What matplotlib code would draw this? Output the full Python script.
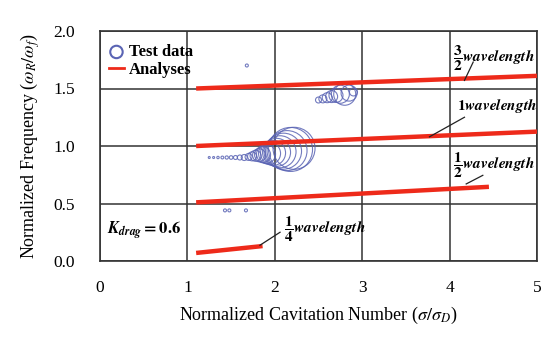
import matplotlib
matplotlib.use("Agg")
import matplotlib.pyplot as plt
import numpy as np

plt.rcParams['font.family'] = ['Liberation Serif', 'DejaVu Serif']
plt.rcParams['mathtext.fontset'] = 'stix'

# ---- data ----
test_x = [1.25, 1.30, 1.35, 1.40, 1.45, 1.50, 1.55, 1.60, 1.65, 1.70, 1.74, 1.78, 1.82,
          1.86, 1.90, 1.94, 1.98, 2.02, 2.06, 2.10, 2.14, 2.18, 2.22,
          2.50, 2.55, 2.60, 2.65, 2.70, 2.75, 2.80, 2.85, 2.90,
          1.68, 1.43, 1.48, 1.67]
test_y = [0.90, 0.90, 0.90, 0.90, 0.90, 0.90, 0.90, 0.90, 0.90, 0.905, 0.91, 0.915, 0.92,
          0.925, 0.93, 0.935, 0.94, 0.945, 0.95, 0.955, 0.96, 0.97, 0.98,
          1.40, 1.41, 1.42, 1.43, 1.44, 1.45, 1.45, 1.46, 1.47,
          1.70, 0.44, 0.44, 0.44]
test_amp = [1.0, 1.0, 1.2, 1.4, 1.6, 1.8, 2.0, 2.5, 3.0, 3.5, 4.5, 5.5, 6.5,
            8.0, 9.5, 11.0, 12.5, 14.0, 16.0, 18.0, 20.0, 22.0, 21.0,
            3.0, 4.0, 5.0, 6.0, 7.0, 9.0, 11.0, 8.0, 4.0,
            1.5, 1.5, 1.5, 1.5]

analysis_labels = ["3/2", "1", "1/2", "1/4"]
analysis_x0 = [1.1, 1.1, 1.1, 1.1]
analysis_y0 = [1.50, 1.00, 0.51, 0.07]
analysis_x1 = [5.0, 5.0, 4.45, 1.86]
analysis_y1 = [1.61, 1.125, 0.645, 0.13]

x_ticks = [0, 1, 2, 3, 4, 5]
y_ticks = [0.0, 0.5, 1.0, 1.5, 2.0]
y_ticklabels = ["0.0", "0.5", "1.0", "1.5", "2.0"]

# ---- figure ----
fig = plt.figure(figsize=(5.49, 3.45), dpi=100)
ax = fig.add_axes([100/549, 1-261/345, 437/549, 230/345])
ax.set_xlim(0, 5)
ax.set_ylim(0, 2)
ax.set_xticks(x_ticks)
ax.set_yticks(y_ticks)
ax.set_yticklabels(y_ticklabels)
ax.tick_params(length=0, labelsize=12.5)
ax.tick_params(axis='x', pad=14)
ax.tick_params(axis='y', pad=18)
ax.grid(True, color='#333333', linewidth=1.1)
ax.set_axisbelow(True)
for s in ax.spines.values():
    s.set_color('#333333')
    s.set_linewidth(1.2)

blue = '#5a64b4'
red = '#ee2a1a'

sizes = [(2 * r * 0.72) ** 2 for r in test_amp]
ax.scatter(test_x, test_y, s=sizes, facecolors='none', edgecolors=blue,
           linewidths=0.8, alpha=0.85, zorder=3)

for x0, y0, x1, y1 in zip(analysis_x0, analysis_y0, analysis_x1, analysis_y1):
    ax.plot([x0, x1], [y0, y1], color=red, linewidth=3.2, solid_capstyle='butt', zorder=4)

# leader lines
leaders = [((4.17, 1.57), (4.27, 1.73)),
           ((3.77, 1.08), (4.17, 1.25)),
           ((4.19, 0.67), (4.38, 0.745)),
           ((1.83, 0.137), (2.06, 0.25))]
for (a, b) in leaders:
    ax.plot([a[0], b[0]], [a[1], b[1]], color='#222222', linewidth=0.9, zorder=5)

tk = dict(fontsize=11, zorder=6, va='center', ha='left')
ax.text(4.04, 1.76, r"$\mathbf{\dfrac{3}{2}}\boldsymbol{wavelength}$", **tk)
ax.text(4.08, 1.35, r"$\mathbf{1}\boldsymbol{wavelength}$", **tk)
ax.text(4.04, 0.83, r"$\mathbf{\dfrac{1}{2}}\boldsymbol{wavelength}$", **tk)
ax.text(2.11, 0.27, r"$\mathbf{\dfrac{1}{4}}\boldsymbol{wavelength}$", **tk)
ax.text(0.08, 0.27, r"$\boldsymbol{K}_{\boldsymbol{drag}}\mathbf{ = 0.6}$", fontsize=12,
        va='center', ha='left', zorder=6)

# legend
h1 = ax.scatter([], [], s=80, facecolors='none', edgecolors=blue, linewidths=1.5)
h2, = ax.plot([], [], color=red, linewidth=2)
leg = ax.legend([h1, h2], ["Test data", "Analyses"], loc='upper left',
                bbox_to_anchor=(-0.01, 1.0), frameon=False, prop={'weight': 'bold', 'size': 12},
                handlelength=0.9, handletextpad=0.3, borderpad=0.3, labelspacing=0.1)

ax.set_xlabel(r"Normalized Cavitation Number ($\sigma/\sigma_D$)", fontsize=13, labelpad=6)
ax.set_ylabel(r"Normalized Frequency ($\omega_R/\omega_f$)", fontsize=13, labelpad=8)

fig.savefig("out.png", dpi=100)
